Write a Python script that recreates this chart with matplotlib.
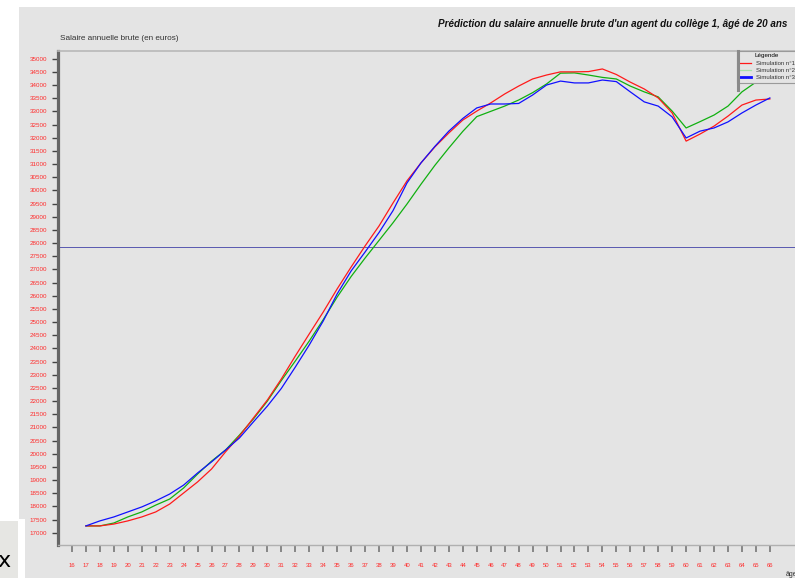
import numpy as np
import matplotlib
matplotlib.use("Agg")
import matplotlib.pyplot as plt
from matplotlib.lines import Line2D
from matplotlib.patches import Rectangle

# âges (axe x) et salaires
ages = list(range(17, 67))
simulation_1 = [17260, 17260, 17330, 17450, 17600, 17790, 18090, 18510, 18930, 19420,
                20070, 20670, 21360, 22040, 22840, 23710, 24550, 25380, 26260, 27090,
                27890, 28650, 29520, 30360, 31040, 31650, 32180, 32670, 33010, 33320,
                33660, 33960, 34230, 34380, 34500, 34500, 34510, 34610, 34400, 34110,
                33850, 33510, 32940, 31870, 32140, 32440, 32820, 33240, 33430, 33470]
simulation_2 = [17260, 17260, 17370, 17600, 17790, 18050, 18280, 18700, 19230, 19720,
                20140, 20710, 21320, 22000, 22780, 23520, 24280, 25090, 25950, 26730,
                27430, 28100, 28770, 29480, 30230, 30950, 31610, 32240, 32800, 33000,
                33200, 33430, 33710, 34040, 34450, 34460, 34380, 34290, 34230, 33960,
                33740, 33550, 33010, 32370, 32610, 32860, 33200, 33740, 34110, 34380]
simulation_3 = [17260, 17450, 17600, 17790, 17980, 18210, 18470, 18810, 19270, 19690,
                20140, 20600, 21210, 21810, 22480, 23290, 24130, 25040, 26070, 26940,
                27660, 28400, 29230, 30280, 31040, 31670, 32250, 32730, 33130, 33280,
                33280, 33300, 33620, 34000, 34150, 34080, 34080, 34190, 34130, 33740,
                33360, 33200, 32790, 31990, 32250, 32370, 32600, 32940, 33240, 33510]
seuil = 27840
x_ticks = list(range(16, 67))
y_ticks = list(range(17000, 35001, 500))
legend_labels = ["Simulation n°1", "Simulation n°2", "Simulation n°3"]

W, H = 795, 578
bg = "#e4e4e4"


def fx(px):
    return px / W


def fy(py):
    return 1 - py / H


fig = plt.figure(figsize=(W / 100, H / 100), dpi=100, facecolor="white")
plt.rcParams['font.family'] = ['Liberation Sans', 'DejaVu Sans']

# fond gris de la capture
fig.add_artist(Rectangle((fx(19), 0), 1, fy(7), transform=fig.transFigure,
                         facecolor=bg, edgecolor="none", zorder=-10))
fig.add_artist(Rectangle((0, 0), fx(24.5), fy(519), transform=fig.transFigure,
                         facecolor="white", edgecolor="none", zorder=-9))
fig.add_artist(Rectangle((0, 0), fx(18), fy(521), transform=fig.transFigure,
                         facecolor="#e6e6e3", edgecolor="none", zorder=-8))
fig.text(fx(4), fy(561), "x", fontsize=16, ha="center", va="center", color="black",
         family="DejaVu Sans")

ax = fig.add_axes([fx(58), fy(545), 1 - fx(58), fy(51) - fy(545)])
ax.set_facecolor(bg)

ax.plot(ages, simulation_1, color="#ff1a1a", linewidth=0.9, zorder=3)
ax.plot(ages, simulation_2, color="#10b010", linewidth=0.9, zorder=2)
ax.plot(ages, simulation_3, color="#1010ff", linewidth=0.9, zorder=3)
ax.axhline(seuil, color="#5858b0", linewidth=0.7, zorder=1)

ax.set_xlim(15.0, 67.8)
ax.set_ylim(16535, 35292)
ax.set_xticks(x_ticks)
ax.set_xticklabels([str(a) for a in x_ticks])
ax.set_yticks(y_ticks)
ax.set_yticklabels([str(v) for v in y_ticks])
ax.tick_params(axis="y", direction="out", length=4.3, width=1.0, color="#444444",
               labelsize=4.5, labelcolor="#ff2a2a", pad=3.5)
ax.tick_params(axis="x", direction="out", length=5, width=1.2, color="#777777",
               labelsize=4.3, labelcolor="#ff2a2a", pad=8)

ax.spines["right"].set_visible(False)
ax.spines["left"].set_color("#666666")
ax.spines["left"].set_linewidth(2.3)
ax.spines["bottom"].set_color("#b0b0b0")
ax.spines["bottom"].set_linewidth(1.0)
ax.spines["top"].set_color("#b8b8b8")
ax.spines["top"].set_linewidth(1.2)

fig.text(fx(438), fy(24), "Prédiction du salaire annuelle brute d'un agent du collège 1, âgé de 20 ans",
         fontsize=7.1, fontweight="bold", fontstyle="italic", ha="left", va="center", color="#111111")
fig.text(fx(60), fy(39), "Salaire annuelle brute (en euros)", fontsize=5.9,
         ha="left", va="center", color="#333333")
fig.text(fx(786), fy(575), "âge", fontsize=5, ha="left", va="center", color="#333333")

handles = [Line2D([], [], color="#ff1a1a", linewidth=0.9),
           Line2D([], [], color="#a8e0a8", linewidth=0.9),
           Line2D([], [], color="#1010ff", linewidth=2.0)]
leg = ax.legend(handles, legend_labels, title="Légende", loc="upper left",
                bbox_to_anchor=((737 - 58) / (W - 58), 1.0), fontsize=4.3,
                title_fontsize=4.5, frameon=True, fancybox=False, handlelength=1.9,
                handletextpad=0.8, borderpad=0.4, labelspacing=0.35, borderaxespad=0)
leg.get_frame().set_facecolor(bg)
leg.get_frame().set_edgecolor("#9a9a9a")
leg.get_frame().set_linewidth(0.8)
leg.get_frame().set_alpha(1)
for t in leg.get_texts():
    t.set_color("#333333")
fig.add_artist(Line2D([fx(737.5), fx(737.5)], [fy(51), fy(90)], transform=fig.transFigure,
                      color="#8a8a8a", linewidth=2.2))

fig.savefig("out.png", dpi=100, facecolor="white")
